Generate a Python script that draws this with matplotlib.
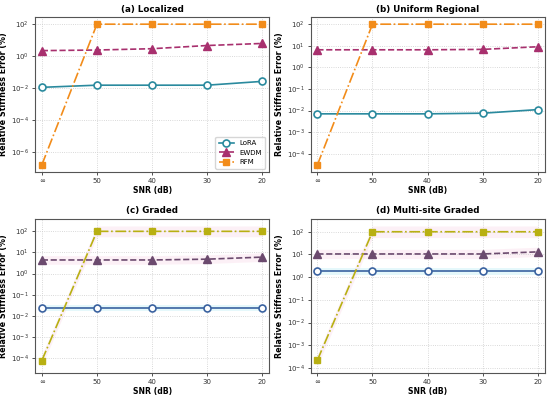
import numpy as np
import matplotlib
matplotlib.use("Agg")
import matplotlib.pyplot as plt

snr_labels = ["∞", "50", "40", "30", "20"]
titles = ["(a) Localized", "(b) Uniform Regional", "(c) Graded", "(d) Multi-site Graded"]

lora = [
    [0.011, 0.015, 0.015, 0.015, 0.026],
    [0.007, 0.007, 0.007, 0.0075, 0.011],
    [0.024, 0.024, 0.024, 0.024, 0.024],
    [1.8, 1.8, 1.8, 1.8, 1.8],
]
ewdm = [
    [2.2, 2.4, 2.9, 4.6, 6.2],
    [6.5, 6.5, 6.5, 6.8, 9.0],
    [4.4, 4.4, 4.4, 4.8, 6.0],
    [10.5, 10.5, 10.5, 10.5, 13.0],
]
rfm = [
    [1.5e-7, 100, 100, 100, 100],
    [3e-5, 100, 100, 100, 100],
    [7.5e-5, 100, 100, 100, 100],
    [2.2e-4, 100, 100, 100, 100],
]

colors_top = {"lora": "#2a8a9e", "ewdm": "#a8306e", "rfm": "#f28c1a"}
colors_bot = {"lora": "#3a62a0", "ewdm": "#6b4a6e", "rfm": "#b8b012"}

fig = plt.figure(figsize=(5.5, 3.95), dpi=100)
positions = [
    [0.064, 0.5646, 0.425, 0.392],
    [0.565, 0.5646, 0.425, 0.392],
    [0.064, 0.0557, 0.425, 0.390],
    [0.565, 0.0557, 0.425, 0.390],
]
x = np.arange(len(snr_labels))

for i in range(4):
    ax = fig.add_axes(positions[i])
    c = colors_top if i < 2 else colors_bot
    if i >= 2:
        ax.fill_between(x, np.array(lora[i]) / 1.4, np.array(lora[i]) * 1.4,
                        color="#bfeff5", alpha=0.4, lw=0)
        ax.fill_between(x, np.array(ewdm[i]) / 1.6, np.array(ewdm[i]) * 1.6,
                        color="#f7c6dc", alpha=0.25, lw=0)
        ax.fill_between(x, np.array(rfm[i]) / 1.8, np.array(rfm[i]) * 1.8,
                        color="#f7c6dc", alpha=0.25, lw=0)
    ax.plot(x, lora[i], '-', color=c["lora"], lw=1.2, marker='o', ms=5,
            mfc='white', mec=c["lora"], mew=1.2, label="LoRA", zorder=3)
    ax.plot(x, ewdm[i], '--', color=c["ewdm"], lw=1.2, marker='^', ms=5.5,
            mfc=c["ewdm"], mec=c["ewdm"], label="EWDM", zorder=3)
    ax.plot(x, rfm[i], '-.', color=c["rfm"], lw=1.2, marker='s', ms=5,
            mfc=c["rfm"], mec=c["rfm"], label="RFM", zorder=3)
    ax.set_yscale('log')
    ax.set_xticks(x)
    ax.set_xticklabels(snr_labels)
    ax.set_xlim(-0.12, 4.12)
    ax.tick_params(labelsize=5, length=2.5, width=0.6, colors="#333333", pad=2)
    ax.tick_params(which='minor', length=0)
    ax.grid(True, which='major', ls=':', lw=0.6, color="#cccccc")
    ax.set_title(titles[i], fontsize=6.3, fontweight='bold', pad=4)
    ax.set_xlabel("SNR (dB)", fontsize=5.6, fontweight='bold', labelpad=1)
    ax.set_ylabel("Relative Stiffness Error (%)", fontsize=5.8, fontweight='bold', labelpad=2)
    for sp in ax.spines.values():
        sp.set_color("#555555")
        sp.set_linewidth(0.8)
    if i == 0:
        ax.legend(loc='lower right', fontsize=5, frameon=True, handlelength=2.2,
                  borderpad=0.5, labelspacing=0.5, edgecolor="#cccccc")

fig.savefig("out.png", dpi=100)
